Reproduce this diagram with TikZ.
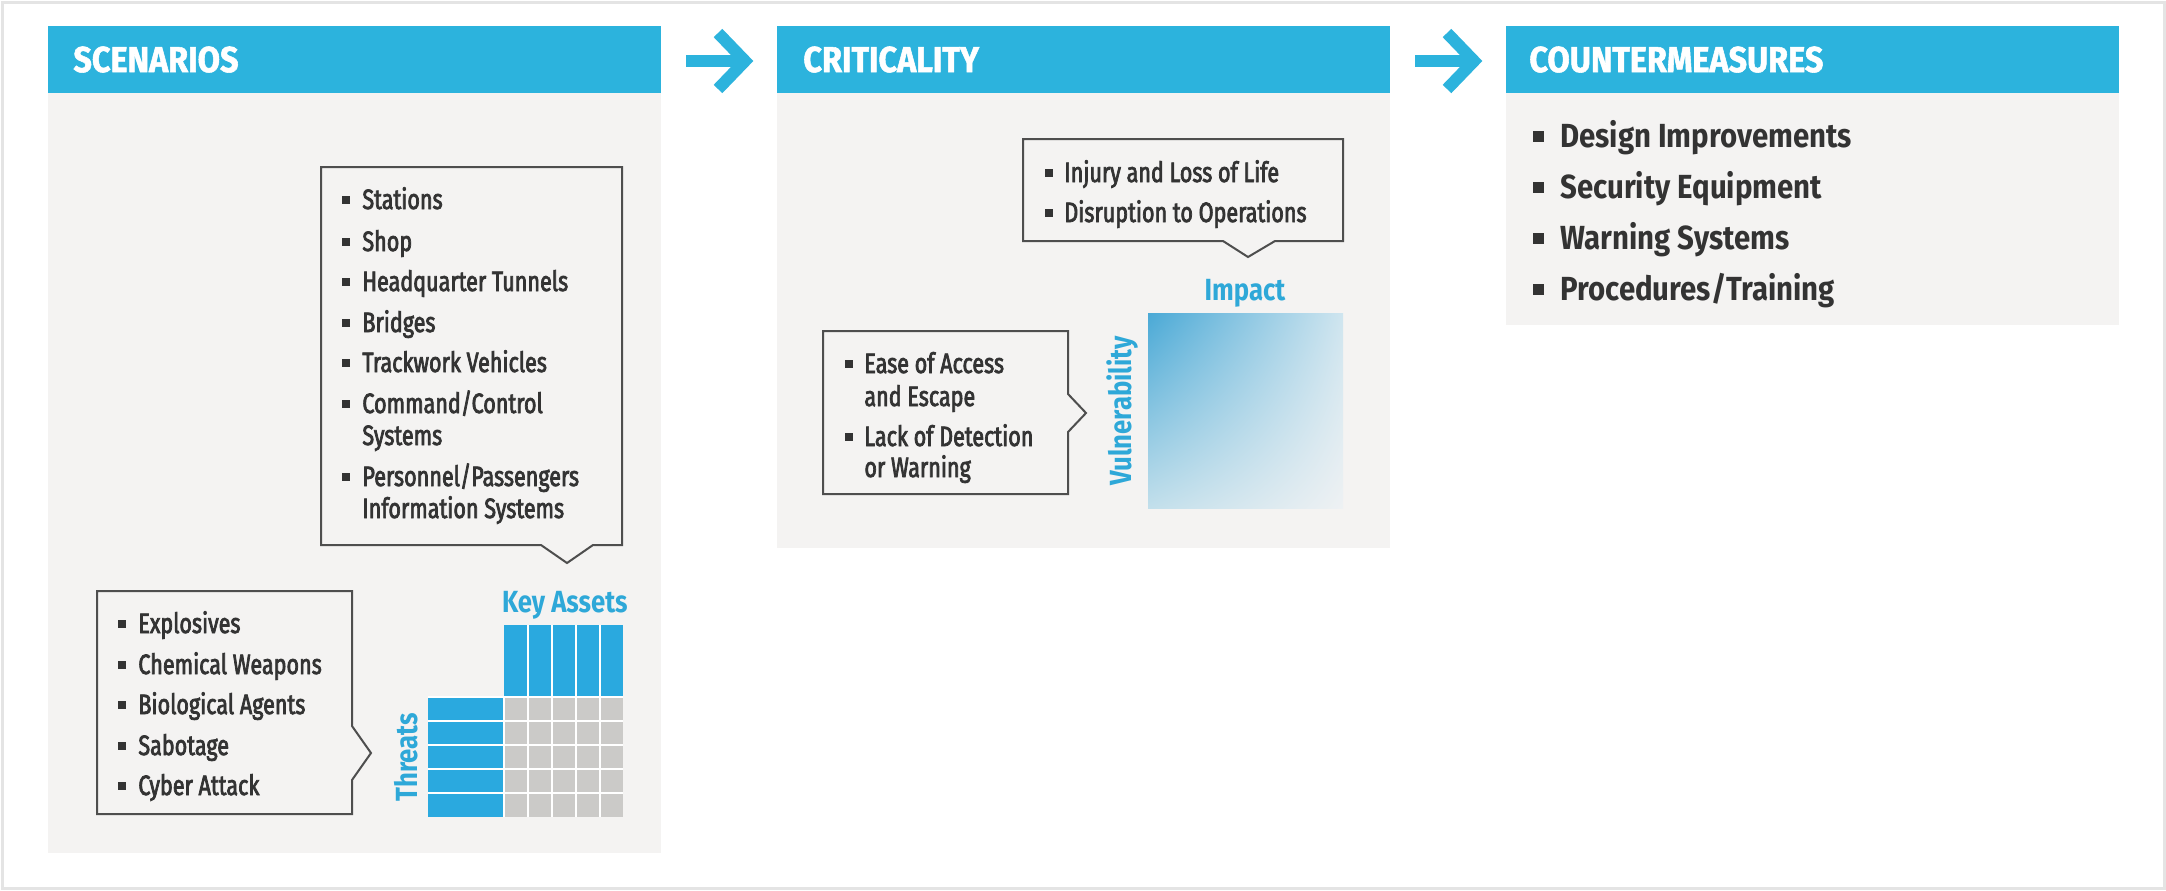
\documentclass[tikz,border=0pt]{standalone}
\usepackage{fontspec}
\usetikzlibrary{shadings}
\setmainfont{Fira Sans}
\newfontfamily\itemfont{Fira Sans}[FakeStretch=0.77,FakeBold=2.6]
\newfontfamily\bigitemfont{Fira Sans}[FakeStretch=0.88]
\newfontfamily\headfont{Fira Sans}[FakeStretch=0.9,FakeBold=1.5]
\newfontfamily\labelfont{Fira Sans}[FakeStretch=0.84]
\definecolor{headblue}{HTML}{2CB3DD}
\definecolor{gridblue}{HTML}{2AA9DF}
\definecolor{labelblue}{HTML}{2EA8D8}
\definecolor{panelgray}{HTML}{F4F3F2}
\definecolor{cellgray}{HTML}{CBCAC8}
\definecolor{textcol}{HTML}{333333}
\definecolor{bordergray}{HTML}{4E4E4E}
\definecolor{outergray}{HTML}{E4E4E4}
\definecolor{gradA}{HTML}{4AA9D6}
\definecolor{gradB}{HTML}{CFE5EF}
\definecolor{gradC}{HTML}{C2DFEB}
\definecolor{gradD}{HTML}{EEF1F3}
\newcommand\bulletitem[5]{%
  \node[bulletsq] (#1-b) at (#2,#4-9.5) {};
  \node[itemtext] (#1) at (#3,#4) {#5};}
\newcommand\contline[4]{\node[itemtext] (#1) at (#2,#3) {#4};}
\newcommand\bigbulletitem[5]{%
  \node[bigbulletsq] (#1-b) at (#2,#4-11) {};
  \node[bigitem] (#1) at (#3,#4) {#5};}
\begin{document}
\begin{tikzpicture}[x=0.5pt,y=-0.5pt,
  panel/.style={fill=panelgray,draw=none},
  header/.style={fill=headblue,draw=none},
  headtext/.style={anchor=base west,text=white,inner sep=0,
    font=\headfont\bfseries\fontsize{18}{18}\selectfont},
  itemtext/.style={anchor=base west,text=textcol,inner sep=0,
    font=\itemfont\fontsize{14}{14}\selectfont},
  bigitem/.style={anchor=base west,text=textcol,inner sep=0,
    font=\bigitemfont\bfseries\fontsize{16.7}{17}\selectfont},
  bulletsq/.style={fill=textcol,draw=none,minimum size=4pt,inner sep=0},
  bigbulletsq/.style={fill=textcol,draw=none,minimum size=5.5pt,inner sep=0},
  callout/.style={draw=bordergray,line width=1pt,fill=panelgray,line join=miter},
  axislabel/.style={text=labelblue,inner sep=0,
    font=\labelfont\bfseries\fontsize{15.3}{15}\selectfont},
  flowarrow/.style={draw=headblue,line width=6pt},
  gridline/.style={draw=white,line width=1pt}]
\useasboundingbox (0,0) rectangle (2166,890);
\draw[outergray,line width=1.5pt] (2,2) rectangle (2164,888);

% ---------- panels ----------
\fill[panel] (48,93) rectangle (661,853);
\fill[header] (48,26) rectangle (661,93);
\node[headtext] (scen-title) at (73,72) {SCENARIOS};

\fill[panel] (777,93) rectangle (1390,548);
\fill[header] (777,26) rectangle (1390,93);
\node[headtext] (crit-title) at (803,72) {CRITICALITY};

\fill[panel] (1506,93) rectangle (2119,325);
\fill[header] (1506,26) rectangle (2119,93);
\node[headtext] (cm-title) at (1529,72) {COUNTERMEASURES};

% ---------- flow arrows ----------
\coordinate (a1s) at (686,61); \coordinate (a1t) at (745,61);
\coordinate (a1u) at (718,33); \coordinate (a1d) at (718,89);
\draw[flowarrow] (a1s) -- (a1t);
\draw[flowarrow,line join=miter] (a1u) -- (a1t) -- (a1d);
\coordinate (a2s) at (1415,61); \coordinate (a2t) at (1474,61);
\coordinate (a2u) at (1447,33); \coordinate (a2d) at (1447,89);
\draw[flowarrow] (a2s) -- (a2t);
\draw[flowarrow,line join=miter] (a2u) -- (a2t) -- (a2d);

% ---------- scenarios: key assets callout ----------
\draw[callout] (321,167) -- (622,167) -- (622,545) -- (593,545) -- (567,563)
  -- (541,545) -- (321,545) -- cycle;
\bulletitem{ka1}{346}{362}{209}{Stations}
\bulletitem{ka2}{346}{362}{251}{Shop}
\bulletitem{ka3}{346}{362}{291}{Headquarter Tunnels}
\bulletitem{ka4}{346}{362}{332}{Bridges}
\bulletitem{ka5}{346}{362}{372}{Trackwork Vehicles}
\bulletitem{ka6}{346}{362}{413}{Command/Control}
\contline{ka6b}{362}{445}{Systems}
\bulletitem{ka7}{346}{362}{486}{Personnel/Passengers}
\contline{ka7b}{362}{518}{Information Systems}

% ---------- scenarios: threats callout ----------
\draw[callout] (97,591) -- (352,591) -- (352,726) -- (371,753) -- (352,780)
  -- (352,814) -- (97,814) -- cycle;
\bulletitem{th1}{122}{138}{633}{Explosives}
\bulletitem{th2}{122}{138}{674}{Chemical Weapons}
\bulletitem{th3}{122}{138}{714}{Biological Agents}
\bulletitem{th4}{122}{138}{755}{Sabotage}
\bulletitem{th5}{122}{138}{795}{Cyber Attack}

% ---------- threat / asset grid ----------
\fill[gridblue] (504,625) rectangle (623,697);
\fill[gridblue] (428,697) rectangle (504,817);
\fill[cellgray] (504,697) rectangle (623,817);
\foreach \k in {1,...,4} {
  \draw[gridline] (504+24*\k,625) -- (504+24*\k,817);
}
\draw[gridline] (504,697) -- (504,817);
\foreach \k in {0,...,4} {
  \draw[gridline] (428,697+24*\k) -- (623,697+24*\k);
}
\node[axislabel,anchor=base east] (keyassets) at (628,612) {Key Assets};
\node[axislabel,rotate=90] (threats) at (406,757) {Threats};

% ---------- criticality ----------
\draw[callout] (1023,139) -- (1343,139) -- (1343,241) -- (1275,241) -- (1248,257)
  -- (1223,241) -- (1023,241) -- cycle;
\bulletitem{im1}{1049}{1064}{182}{Injury and Loss of Life}
\bulletitem{im2}{1049}{1064}{222}{Disruption to Operations}
\node[axislabel,anchor=base] (impact) at (1245,300) {Impact};

\shade[upper left=gradA,upper right=gradB,lower left=gradC,lower right=gradD]
  (1148,313) rectangle (1343,508);

\draw[callout] (823,331) -- (1068,331) -- (1068,394) -- (1086,413) -- (1068,432)
  -- (1068,494) -- (823,494) -- cycle;
\bulletitem{vu1}{849}{864}{373}{Ease of Access}
\contline{vu1b}{864}{406}{and Escape}
\bulletitem{vu2}{849}{864}{446}{Lack of Detection}
\contline{vu2b}{864}{477}{or Warning}
\node[axislabel,rotate=90] (vulner) at (1122,411) {Vulnerability};

% ---------- countermeasures ----------
\bigbulletitem{cm1}{1538}{1560}{147}{Design Improvements}
\bigbulletitem{cm2}{1538}{1560}{198}{Security Equipment}
\bigbulletitem{cm3}{1538}{1560}{249}{Warning Systems}
\bigbulletitem{cm4}{1538}{1560}{300}{Procedures/Training}
\end{tikzpicture}
\end{document}
